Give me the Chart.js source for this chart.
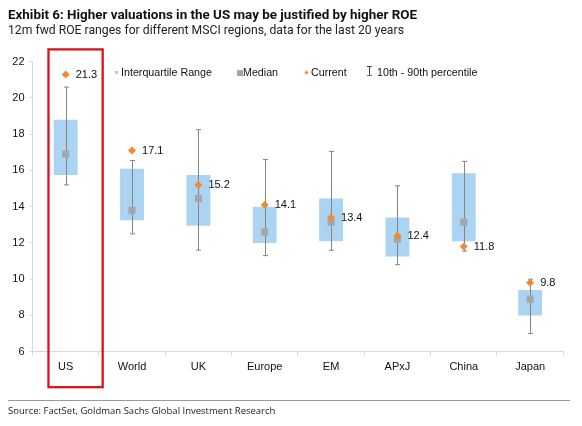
<!DOCTYPE html>
<html>
<head>
<meta charset="utf-8">
<script src="https://cdn.jsdelivr.net/npm/chart.js@4"></script>
<style>
  html, body { margin: 0; padding: 0; background: #fff; }
  #wrap { position: relative; width: 582px; height: 426px; overflow: hidden; }
  #chart { position: absolute; left: 0; top: 0; }
  .txt { position: absolute; white-space: nowrap; color: #111; }
  .title { left: 8px; top: 7px; font: bold 13.4px Roboto, sans-serif; }
  .subtitle { left: 8px; top: 23px; font: 12.2px Roboto, sans-serif; color: #222; }
  .source { left: 8px; top: 404px; font: 9.5px "Open Sans", sans-serif; color: #222; }
  .rule { position: absolute; left: 8px; top: 400px; width: 562px; height: 1px; background: #9a9a9a; }
  .leg { position: absolute; top: 66px; font: 10.7px "Liberation Sans", Arial, sans-serif; line-height: 13px; color: #111; white-space: nowrap; }
  .mk { position: absolute; }
</style>
</head>
<body>
<div id="wrap">
  <canvas id="chart" width="582" height="426"></canvas>
  <div class="txt title">Exhibit 6: Higher valuations in the US may be justified by higher ROE</div>
  <div class="txt subtitle">12m fwd ROE ranges for different MSCI regions, data for the last 20 years</div>

  <div class="mk" style="left:115px;top:71px;width:3px;height:3px;background:#a9d3f0;"></div>
  <div class="leg" style="left:121px;">Interquartile Range</div>
  <div class="mk" style="left:237px;top:70px;width:6px;height:6px;background:#a6a6a6;"></div>
  <div class="leg" style="left:243px;">Median</div>
  <div class="mk" style="left:305px;top:71px;width:3px;height:3px;background:#ee8a33;transform:rotate(45deg);"></div>
  <div class="leg" style="left:311px;">Current</div>
  <div class="mk" style="left:369px;top:67px;width:1px;height:8px;background:#33406e;"></div>
  <div class="mk" style="left:367px;top:66px;width:5px;height:1px;background:#33406e;"></div>
  <div class="mk" style="left:367px;top:75px;width:5px;height:1px;background:#4a6fb0;"></div>
  <div class="leg" style="left:377px;">10th - 90th percentile</div>

  <div class="rule"></div>
  <div class="txt source">Source: FactSet, Goldman Sachs Global Investment Research</div>
</div>
<script>
const regions = ['US', 'World', 'UK', 'Europe', 'EM', 'APxJ', 'China', 'Japan'];
const p10 = [15.2, 12.5, 11.6, 11.3, 11.6, 10.8, 11.55, 7.0];
const p90 = [20.6, 16.55, 18.25, 16.6, 17.05, 15.15, 16.5, 10.0];
const q1 = [15.75, 13.25, 12.95, 12.0, 12.1, 11.25, 12.1, 8.0];
const q3 = [18.8, 16.1, 15.75, 14.0, 14.45, 13.4, 15.85, 9.4];
const median = [16.9, 13.8, 14.45, 12.6, 13.15, 12.2, 13.15, 8.9];
const current = [21.3, 17.1, 15.2, 14.1, 13.4, 12.4, 11.8, 9.8];
const yTicks = [6, 8, 10, 12, 14, 16, 18, 20, 22];

const FONT = '"Liberation Sans", Arial, sans-serif';

// 10th-90th whiskers, drawn right after the IQR bars so markers sit on top
const whiskers = {
  id: 'whiskers',
  afterDatasetDraw(chart, args) {
    if (args.index !== 0) return;
    const { ctx, scales: { x, y } } = chart;
    ctx.save();
    ctx.strokeStyle = '#858585';
    ctx.lineWidth = 1;
    regions.forEach((r, i) => {
      const cx = Math.round(x.getPixelForValue(i)) + 0.5;
      const top = y.getPixelForValue(p90[i]);
      const bot = y.getPixelForValue(p10[i]);
      ctx.beginPath();
      ctx.moveTo(cx, top);
      ctx.lineTo(cx, bot);
      ctx.moveTo(cx - 2.5, top);
      ctx.lineTo(cx + 2.5, top);
      ctx.moveTo(cx - 2.5, bot);
      ctx.lineTo(cx + 2.5, bot);
      ctx.stroke();
    });
    ctx.restore();
  }
};

// value labels next to the current markers + red highlight round US
const extras = {
  id: 'extras',
  afterDatasetsDraw(chart) {
    const { ctx, scales: { x } } = chart;
    const meta = chart.getDatasetMeta(2);
    ctx.save();
    ctx.font = '11px ' + FONT;
    ctx.fillStyle = '#111';
    ctx.textBaseline = 'middle';
    meta.data.forEach((pt, i) => {
      ctx.fillText(current[i].toFixed(1), pt.x + 10, pt.y + 0.5);
    });
    const ux = x.getPixelForValue(0);
    ctx.strokeStyle = '#d8131b';
    ctx.lineWidth = 2.3;
    ctx.strokeRect(ux - 17.2, 49.4, 54.2, 337.8);
    ctx.restore();
  }
};

new Chart(document.getElementById('chart'), {
  type: 'bar',
  data: {
    labels: regions,
    datasets: [
      {
        label: 'Interquartile Range',
        data: regions.map((r, i) => [q1[i], q3[i]]),
        backgroundColor: '#abd4f2',
        borderWidth: 0,
        barPercentage: 0.36,
        categoryPercentage: 1,
        order: 3
      },
      {
        type: 'line',
        label: 'Median',
        data: median,
        showLine: false,
        pointStyle: 'rect',
        pointRadius: 5,
        pointBackgroundColor: '#a6a6a6',
        pointBorderWidth: 0,
        order: 2
      },
      {
        type: 'line',
        label: 'Current',
        data: current,
        showLine: false,
        pointStyle: 'rectRot',
        pointRadius: 4,
        pointBackgroundColor: '#ee8a33',
        pointBorderWidth: 0,
        order: 1
      }
    ]
  },
  options: {
    responsive: false,
    animation: false,
    layout: { padding: { top: 61.7, left: 0, right: 18.7, bottom: 0 } },
    plugins: { legend: { display: false }, tooltip: { enabled: false } },
    scales: {
      x: {
        afterFit: (s) => { s.height = 74.3; },
        grid: { offset: true, drawOnChartArea: false, tickLength: 4, color: '#d9d9d9' },
        border: { color: '#d9d9d9' },
        ticks: { color: '#111', font: { family: FONT, size: 11 }, padding: 5 }
      },
      y: {
        min: 6,
        max: 22,
        afterFit: (s) => { s.width = 32.5; },
        afterBuildTicks: (s) => { s.ticks = yTicks.map(v => ({ value: v })); },
        grid: { drawOnChartArea: false, tickLength: 3, color: '#d9d9d9' },
        border: { color: '#d9d9d9' },
        ticks: { color: '#111', font: { family: FONT, size: 11 }, padding: 5 }
      }
    }
  },
  plugins: [whiskers, extras]
});
</script>
</body>
</html>
